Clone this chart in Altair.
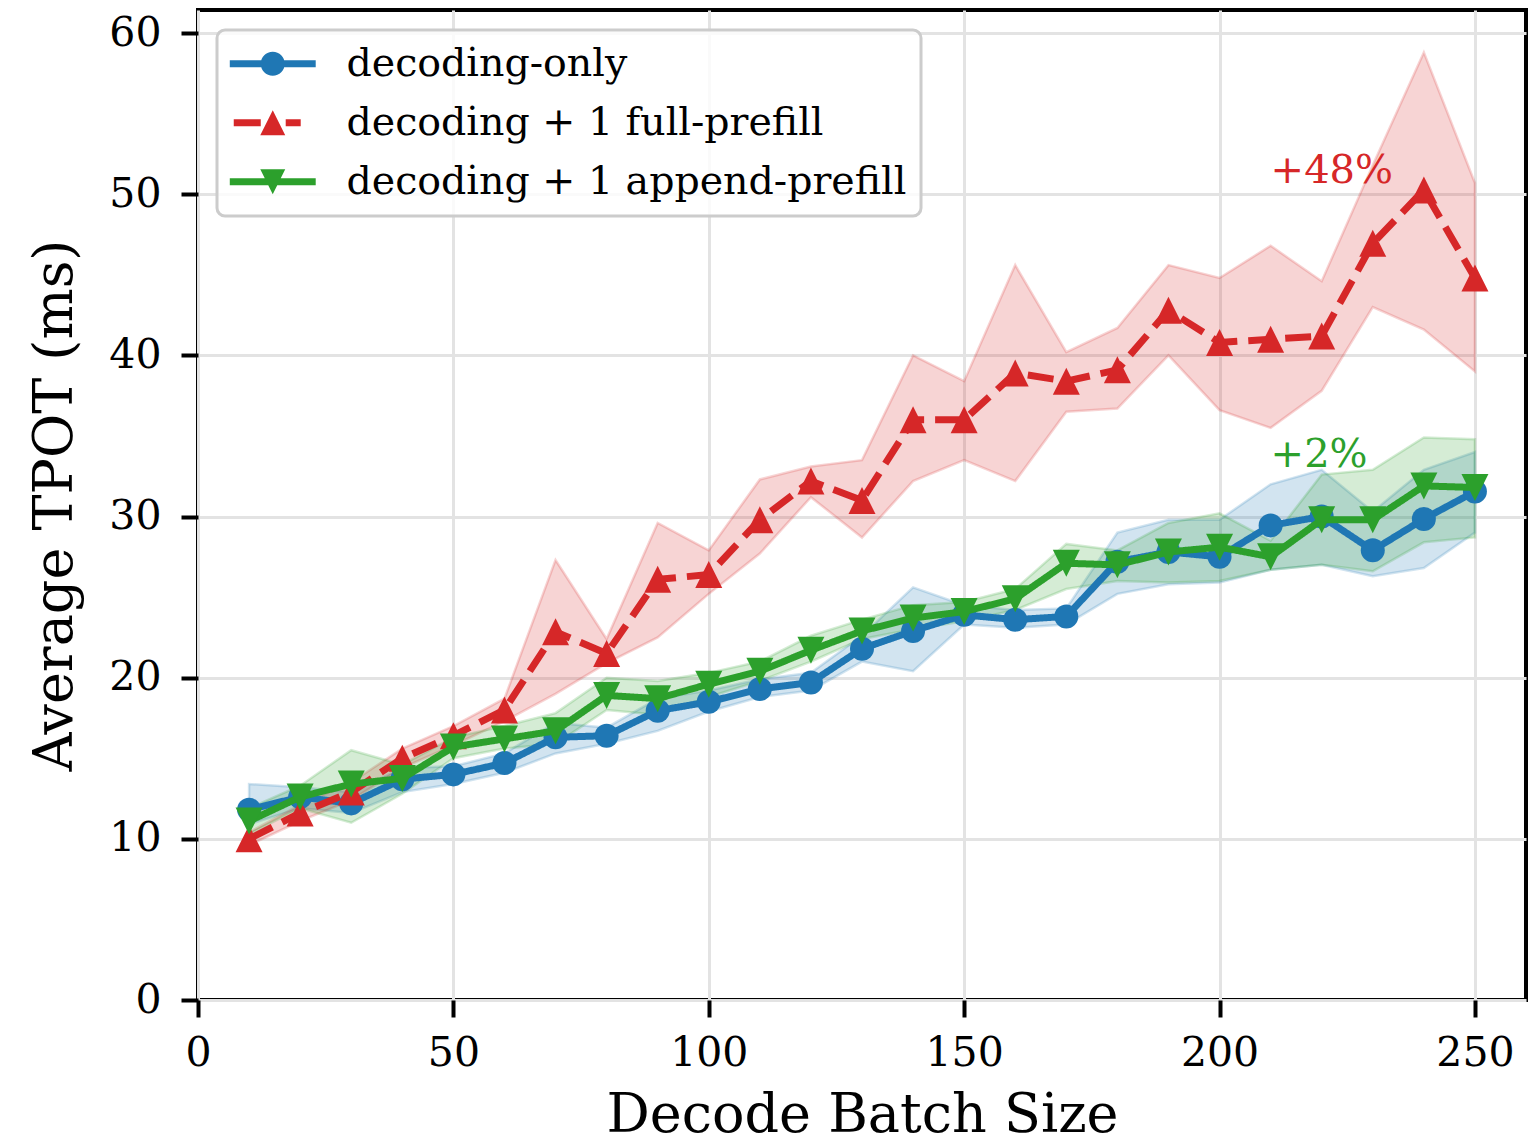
import altair as alt
import pandas as pd

# ---------------- data ----------------
batch = [10, 20, 30, 40, 50, 60, 70, 80, 90, 100, 110, 120, 130,
         140, 150, 160, 170, 180, 190, 200, 210, 220, 230, 240, 250]

only_mean = [11.8, 12.6, 12.2, 13.7, 14.0, 14.7, 16.3, 16.4, 17.95, 18.5, 19.3, 19.7, 21.8,
             22.9, 23.9, 23.6, 23.8, 27.2, 27.8, 27.5, 29.45, 30.0, 27.9, 29.85, 31.55]
only_lo = [10.9, 11.9, 11.6, 12.9, 13.4, 14.1, 15.3, 15.9, 16.7, 17.9, 18.8, 19.2, 21.0,
           20.4, 23.3, 23.1, 23.3, 25.2, 25.8, 25.9, 26.7, 27.0, 26.3, 26.8, 29.0]
only_hi = [13.4, 13.2, 12.9, 14.4, 14.5, 15.3, 17.2, 16.9, 18.7, 19.2, 19.9, 20.3, 22.6,
           25.6, 24.5, 24.2, 24.3, 29.0, 29.8, 29.8, 32.0, 32.9, 30.3, 32.9, 34.0]

full_mean = [10.0, 11.6, 12.9, 15.0, 16.4, 18.0, 22.85, 21.5, 26.1, 26.4, 29.8, 32.2, 31.0,
             36.0, 36.0, 38.9, 38.4, 39.1, 42.8, 40.8, 41.0, 41.2, 46.95, 50.26, 44.8]
full_lo = [9.6, 11.1, 12.4, 14.4, 15.8, 17.3, 19.0, 20.9, 22.5, 25.2, 27.7, 31.2, 28.7,
           32.2, 33.5, 32.2, 36.5, 36.7, 40.0, 36.6, 35.5, 37.8, 43.0, 41.6, 39.0]
full_hi = [10.4, 12.1, 13.5, 15.6, 17.0, 18.7, 27.3, 22.4, 29.6, 27.9, 32.3, 33.1, 33.5,
           40.0, 38.4, 45.6, 40.2, 41.7, 45.6, 44.8, 46.8, 44.6, 51.8, 58.8, 50.7]

app_mean = [11.1, 12.6, 13.4, 13.75, 15.7, 16.2, 16.7, 18.9, 18.7, 19.6, 20.4, 21.7, 22.9,
            23.7, 24.1, 24.9, 27.1, 27.0, 27.8, 28.1, 27.5, 29.8, 29.8, 31.9, 31.8]
app_lo = [10.3, 11.9, 11.0, 12.8, 15.0, 15.6, 15.9, 18.0, 17.7, 18.8, 19.8, 21.0, 22.4,
          23.0, 23.5, 24.2, 25.5, 26.0, 25.9, 26.0, 26.7, 27.0, 26.6, 28.4, 28.7]
app_hi = [11.9, 13.3, 15.5, 14.6, 16.3, 17.0, 17.8, 20.0, 19.8, 20.3, 21.0, 22.6, 23.6,
          24.5, 24.7, 25.5, 28.3, 27.9, 29.6, 30.2, 28.5, 32.6, 32.9, 34.9, 34.8]

series_names = ["decoding-only", "decoding + 1 full-prefill", "decoding + 1 append-prefill"]
colors = ["#1f77b4", "#d62728", "#2ca02c"]

x_ticks = [0, 50, 100, 150, 200, 250]
y_ticks = [0, 10, 20, 30, 40, 50, 60]

annot_text = ["+48%", "+2%"]
annot_x = [210, 210]
annot_y = [50.7, 33.1]
annot_color = ["#d62728", "#2ca02c"]

# ---------------- styles ----------------
FONT = "DejaVu Serif"
CIRCLE = "circle"
TRI_UP = "M0,-1L1,1L-1,1Z"
TRI_DOWN = "M0,1L-1,-1L1,-1Z"
marker_shapes = [CIRCLE, TRI_UP, TRI_DOWN]
marker_sizes = [576, 729, 729]
dashes = [[1, 0], [26, 11], [1, 0]]

# legend symbols (unit = 12 px with symbolSize 576)
LEG_CIRCLE = ("M-3.58,-0.3L3.58,-0.3L3.58,0.3L-3.58,0.3Z"
              "M1,0A1,1 0 1,1 -1,0A1,1 0 1,1 1,0Z")
LEG_TRI_UP = ("M-3.25,-0.3L-1.0,-0.3L-1.0,0.3L-3.25,0.3Z"
              "M1.08,-0.3L2.33,-0.3L2.33,0.3L1.08,0.3Z"
              "M0,-1.04L1.04,1.04L-1.04,1.04Z")
LEG_TRI_DOWN = ("M-3.58,-0.3L3.58,-0.3L3.58,0.3L-3.58,0.3Z"
                "M0,1.04L-1.04,-1.04L1.04,-1.04Z")
legend_shapes = [LEG_CIRCLE, LEG_TRI_UP, LEG_TRI_DOWN]

rows = []
for name, m, lo, hi in zip(series_names,
                           [only_mean, full_mean, app_mean],
                           [only_lo, full_lo, app_lo],
                           [only_hi, full_hi, app_hi]):
    for xi, mi, li, hv in zip(batch, m, lo, hi):
        rows.append(dict(batch=xi, series=name, mean=mi, lo=li, hi=hv))
df = pd.DataFrame(rows)

annot_df = pd.DataFrame(dict(x=annot_x, y=annot_y, text=annot_text, color=annot_color))

xscale = alt.Scale(domain=[0, 260], nice=False, zero=False)
yscale = alt.Scale(domain=[0, 61.43], nice=False, zero=False)
cscale = alt.Scale(domain=series_names, range=colors)

X = alt.X("batch:Q", scale=xscale,
          axis=alt.Axis(values=x_ticks, title="Decode Batch Size", format="d"))
Y = alt.Y("mean:Q", scale=yscale,
          axis=alt.Axis(values=y_ticks, title="Average TPOT (ms)", format="d"))

base = alt.Chart(df)

# layer without drawn marks that only carries the legend (first, so its legend settings win)
leg = alt.Legend(title=None, orient="none", legendX=19, legendY=20,
                 symbolSize=576, symbolStrokeWidth=0, symbolOpacity=1, symbolOffset=22,
                 labelOffset=54, rowPadding=18)
legend_layer = base.transform_filter("false").mark_point(filled=True, opacity=1, size=576).encode(
    x=X, y=Y,
    color=alt.Color("series:N", scale=cscale, legend=leg),
    shape=alt.Shape("series:N", scale=alt.Scale(domain=series_names, range=legend_shapes),
                    legend=leg),
)

bands = base.mark_area(fillOpacity=0.2, strokeOpacity=0.2, strokeWidth=2.5).encode(
    x=X,
    y=alt.Y("lo:Q", scale=yscale, axis=alt.Axis(values=y_ticks, title="Average TPOT (ms)", format="d")),
    y2="hi:Q",
    color=alt.Color("series:N", scale=cscale, legend=None),
    stroke=alt.Stroke("series:N", scale=alt.Scale(domain=series_names, range=colors), legend=None),
    detail="series:N",
)

layers = [legend_layer, bands]
for name, shp, sz, dash in zip(series_names, marker_shapes, marker_sizes, dashes):
    sub = base.transform_filter(alt.datum.series == name)
    line = sub.mark_line(strokeWidth=7, strokeDash=dash, strokeCap="butt").encode(
        x=X, y=Y, color=alt.Color("series:N", scale=cscale, legend=None))
    pts = sub.mark_point(filled=True, opacity=1, shape=shp, size=sz, strokeWidth=0).encode(
        x=X, y=Y, color=alt.Color("series:N", scale=cscale, legend=None))
    layers += [line, pts]

annots = alt.Chart(annot_df).mark_text(font=FONT, fontSize=40, align="left",
                                        baseline="alphabetic").encode(
    x=alt.X("x:Q", scale=xscale),
    y=alt.Y("y:Q", scale=yscale),
    text="text:N",
    fill=alt.Fill("color:N", scale=None, legend=None),
)
layers.append(annots)

chart = alt.layer(*layers).resolve_scale(stroke="independent").properties(
    width=1328, height=990,
    autosize=alt.AutoSizeParams(type="none"),
    padding={"left": 190, "top": 2, "right": 4, "bottom": 138},
).configure_view(
    stroke="black", strokeWidth=4
).configure_axis(
    domain=False, labelFlush=False,
    grid=True, gridColor="#e3e3e3", gridWidth=3,
    ticks=True, tickColor="black", tickWidth=4, tickSize=17,
    labelFont=FONT, labelFontSize=41, labelColor="black",
    titleFont=FONT, titleFontSize=54, titleColor="black", titleFontWeight="normal",
).configure_axisX(
    labelPadding=16, titlePadding=15,
).configure_axisY(
    labelPadding=20, titlePadding=26,
).configure_legend(
    labelFont=FONT, labelFontSize=39.5, labelColor="black", labelLimit=0,
    fillColor="rgba(255,255,255,0.8)", strokeColor="#cccccc", strokeWidth=3,
    cornerRadius=8, padding=14,
)

chart.save("out.html", embed_options={"renderer": "svg", "actions": False})
